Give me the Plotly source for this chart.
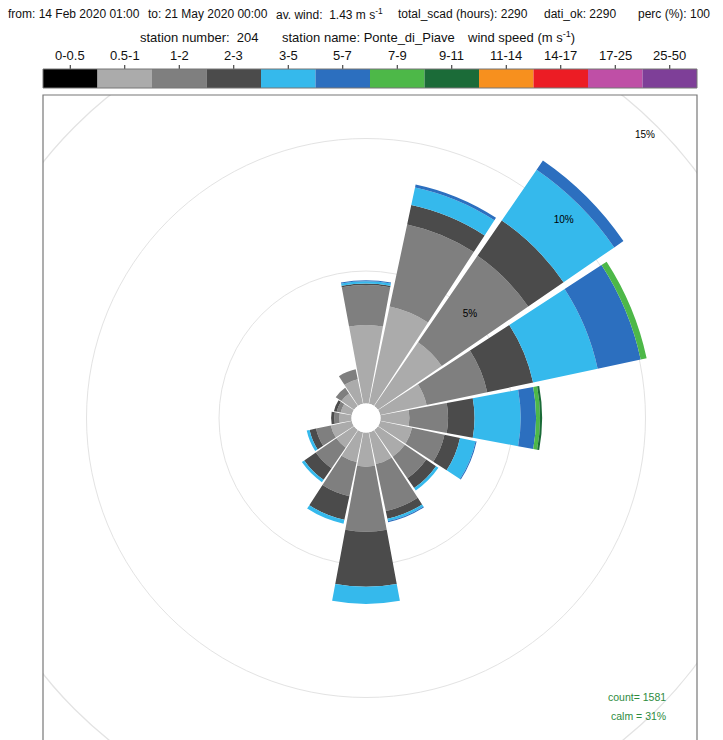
import plotly.graph_objects as go

# ---------------------------------------------------------------- data
directions = ["N", "NNE", "NE", "ENE", "E", "ESE", "SE", "SSE",
              "S", "SSW", "SW", "WSW", "W", "WNW", "NW", "NNW"]
dir_angles = [i * 22.5 for i in range(16)]

speed_labels = ["0-0.5", "0.5-1", "1-2", "2-3", "3-5", "5-7",
                "7-9", "9-11", "11-14", "14-17", "17-25", "25-50"]
speed_colors = ["#000000", "#ABABAB", "#7F7F7F", "#4B4B4B", "#35B9EC", "#2C6FBF",
                "#4DB848", "#1B6B38", "#F7901E", "#EC1C24", "#BF4FA6", "#7E3F98"]

# frequency (% of all hours) per direction, one list per speed class
ws_0_05 = [0.0] * 16
ws_05_1 = [2.96, 3.75, 2.92, 1.79, 1.09, 1.23, 1.23, 1.23, 1.29, 1.15, 0.81, 0.81, 0.46, 0.43, 0.58, 0.95]
ws_1_2 = [1.51, 3.17, 3.96, 2.34, 1.46, 1.25, 0.98, 1.81, 2.45, 1.32, 0.94, 0.57, 0.19, 0.15, 0.26, 0.38]
ws_2_3 = [0.06, 0.75, 1.62, 1.77, 1.00, 0.60, 0.45, 0.30, 2.08, 0.91, 0.53, 0.25, 0.12, 0.11, 0.00, 0.00]
ws_3_5 = [0.08, 0.68, 2.32, 2.49, 1.74, 0.60, 0.11, 0.09, 0.65, 0.15, 0.11, 0.11, 0.00, 0.00, 0.00, 0.00]
ws_5_7 = [0.04, 0.11, 0.42, 1.66, 0.58, 0.04, 0.00, 0.04, 0.00, 0.00, 0.00, 0.00, 0.00, 0.00, 0.00, 0.00]
ws_7_9 = [0.00, 0.00, 0.00, 0.23, 0.15, 0.00, 0.00, 0.00, 0.00, 0.00, 0.00, 0.00, 0.00, 0.00, 0.00, 0.00]
ws_9_11 = [0.00, 0.00, 0.00, 0.00, 0.08, 0.00, 0.00, 0.00, 0.00, 0.00, 0.00, 0.00, 0.00, 0.00, 0.00, 0.00]

grid_levels = [5, 10, 15]

header_parts = ["from: 14 Feb 2020 01:00", "to: 21 May 2020 00:00",
                "av. wind:  1.43 m s<sup>-1</sup>", "total_scad (hours): 2290",
                "dati_ok: 2290", "perc (%): 100"]
station_parts = ["station number:  204", "station name: Ponte_di_Piave",
                 "wind speed (m s<sup>-1</sup>)"]
count_text = "count= 1581"
calm_text = "calm = 31%"

# ---------------------------------------------------------------- geometry (pixels)
W, H = 723, 740
CX, CY = 366, 418          # rose centre
HOLE_PX = 14.5             # radius of the empty centre
PX_PER_PCT = 26.5          # radial scale
R_FRAME = 320              # radius of the polar subplot
RMAX = (R_FRAME - HOLE_PX) / PX_PER_PCT

PANEL_L, PANEL_T, PANEL_R = 43, 95, 697
BAR_T, BAR_B = 69, 88      # colour key strip
HEADER_XC = [74, 208, 329, 463, 580, 674]   # centres of the header pieces
STATION_X = [138, 280, 465]


def px(x):
    return x / W


def py(y):
    return 1 - y / H


series = [ws_0_05, ws_05_1, ws_1_2, ws_2_3, ws_3_5, ws_5_7, ws_7_9, ws_9_11]

fig = go.Figure()
for label, color, values in zip(speed_labels, speed_colors, series):
    if sum(values) == 0:
        continue
    fig.add_trace(go.Barpolar(
        r=values, theta=dir_angles, width=[21.0] * 16,
        marker=dict(color=color, line=dict(width=0)),
        name=label, showlegend=False, hoverinfo="skip",
    ))

# percentage labels on the grid circles inside the subplot range
inside = [g for g in grid_levels if g <= RMAX]
fig.add_trace(go.Scatterpolar(
    r=inside, theta=[45] * len(inside), mode="text",
    text=[f"{g}%" for g in inside],
    textfont=dict(family="Liberation Sans", size=10, color="#000000"),
    showlegend=False, hoverinfo="skip",
))

fig.update_layout(
    width=W, height=H,
    margin=dict(l=0, r=0, t=0, b=0),
    paper_bgcolor="white",
    polar=dict(
        domain=dict(x=[px(CX - R_FRAME), px(CX + R_FRAME)],
                    y=[py(CY + R_FRAME), py(CY - R_FRAME)]),
        bgcolor="rgba(0,0,0,0)",
        hole=HOLE_PX / R_FRAME,
        barmode="stack",
        radialaxis=dict(range=[0, RMAX], tickvals=inside, showticklabels=False,
                        ticks="", showline=False, gridcolor="#E3E3E3", gridwidth=1.3,
                        layer="below traces"),
        angularaxis=dict(rotation=90, direction="clockwise", showgrid=False,
                         showticklabels=False, ticks="", showline=False,
                         layer="below traces"),
    ),
)

shapes = []
# outer grid circle(s) beyond the subplot range, clipped by the panel via masks
for g in grid_levels:
    if g > RMAX:
        rr = HOLE_PX + g * PX_PER_PCT
        shapes.append(dict(type="circle", xref="paper", yref="paper", layer="below",
                           x0=px(CX - rr), x1=px(CX + rr), y0=py(CY + rr), y1=py(CY - rr),
                           line=dict(color="#E3E3E3", width=1.3)))
# white masks outside the panel
for x0, x1, y0, y1 in [(0, 1, py(PANEL_T), 1), (0, px(PANEL_L), 0, 1), (px(PANEL_R), 1, 0, 1)]:
    shapes.append(dict(type="rect", xref="paper", yref="paper", layer="above",
                       x0=x0, x1=x1, y0=y0, y1=y1, fillcolor="white", line=dict(width=0)))
# colour key
n = len(speed_labels)
cell = (PANEL_R - PANEL_L) / n
for i, c in enumerate(speed_colors):
    shapes.append(dict(type="rect", xref="paper", yref="paper", layer="above",
                       x0=px(PANEL_L + i * cell), x1=px(PANEL_L + (i + 1) * cell),
                       y0=py(BAR_B), y1=py(BAR_T), fillcolor=c, line=dict(width=0)))
    xc = PANEL_L + (i + 0.5) * cell
    shapes.append(dict(type="line", xref="paper", yref="paper", layer="above",
                       x0=px(xc), x1=px(xc), y0=py(BAR_T), y1=py(BAR_T - 4),
                       line=dict(color="#222222", width=1)))
shapes.append(dict(type="rect", xref="paper", yref="paper", layer="above",
                   x0=px(PANEL_L), x1=px(PANEL_R), y0=py(BAR_B), y1=py(BAR_T),
                   line=dict(color="#777777", width=1)))
# panel border (bottom edge runs off the page)
shapes.append(dict(type="rect", xref="paper", yref="paper", layer="above",
                   x0=px(PANEL_L), x1=px(PANEL_R), y0=-0.2, y1=py(PANEL_T),
                   line=dict(color="#777777", width=1.2)))
fig.update_layout(shapes=shapes)

ann = []
head_font = dict(family="Liberation Sans", size=12, color="#111111")
key_font = dict(family="Liberation Sans", size=13, color="#111111")
for x, t in zip(HEADER_XC, header_parts):
    ann.append(dict(x=px(x), y=py(14), text=t, showarrow=False, xref="paper",
                    yref="paper", xanchor="center", yanchor="middle", font=head_font))
for x, t in zip(STATION_X, station_parts):
    ann.append(dict(x=px(x), y=py(37), text=t, showarrow=False, xref="paper",
                    yref="paper", xanchor="left", yanchor="middle", font=key_font))
for i, lab in enumerate(speed_labels):
    xc = PANEL_L + (i + 0.5) * cell
    ann.append(dict(x=px(xc), y=py(55), text=lab, showarrow=False,
                    xref="paper", yref="paper", xanchor="center", yanchor="middle",
                    font=key_font))
for g in grid_levels:
    if g > RMAX:
        rr = HOLE_PX + g * PX_PER_PCT
        ann.append(dict(x=px(CX + rr * 0.7071), y=py(CY - rr * 0.7071), text=f"{g}%",
                        showarrow=False, xref="paper", yref="paper",
                        font=dict(family="Liberation Sans", size=10, color="#000000")))
green = dict(family="Liberation Sans", size=10.5, color="#2E8B3E")
ann.append(dict(x=px(668), y=py(697), text=count_text, showarrow=False, xref="paper",
                yref="paper", xanchor="right", yanchor="middle", font=green))
ann.append(dict(x=px(668), y=py(716), text=calm_text, showarrow=False, xref="paper",
                yref="paper", xanchor="right", yanchor="middle", font=green))
fig.update_layout(annotations=ann)

fig.write_html("out.html")
